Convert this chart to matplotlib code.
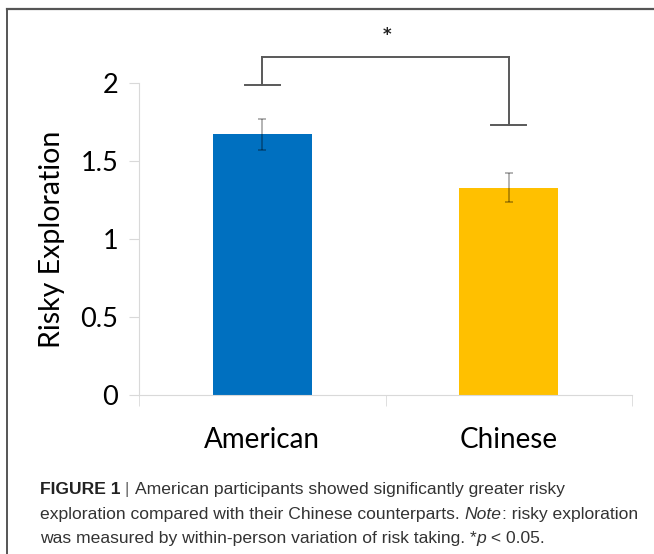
import numpy as np
import matplotlib
matplotlib.use("Agg")
import matplotlib.pyplot as plt

# data
groups = ["American", "Chinese"]
means = [1.67, 1.33]
errors = [0.10, 0.09]
bar_colors = ["#0070C0", "#FFC000"]
yticks = [0, 0.5, 1, 1.5, 2]
ytick_labels = ["0", "0.5", "1", "1.5", "2"]
bracket_top = 2.165
bracket_ends = [1.99, 1.733]

W, H = 654, 554
fig = plt.figure(figsize=(W / 100, H / 100), dpi=100)

# axes placed in pixel terms
x0, x1 = 139, 632
y0 = 395
px_per_unit = 156
ymax = 2.4
ax = fig.add_axes([x0 / W, (H - y0) / H, (x1 - x0) / W, ymax * px_per_unit / H])

xpos = np.arange(len(groups))
ax.bar(xpos, means, width=0.4, color=bar_colors, zorder=2)
ax.errorbar(xpos, means, yerr=errors, fmt="none", ecolor="black", alpha=0.35,
            elinewidth=1.2, capsize=3, capthick=1.2, zorder=3)

ax.set_xlim(-0.5, 1.5)
ax.set_ylim(0, ymax)
for s in ["top", "right"]:
    ax.spines[s].set_visible(False)
ax.spines["left"].set_bounds(0, 2)
ax.spines["left"].set_color("#D9D9D9")
ax.spines["bottom"].set_color("#D9D9D9")

tickfont = "Lato"
ax.set_yticks(yticks)
ax.set_yticklabels(ytick_labels, fontsize=19.5, family=tickfont, color="black")
ax.tick_params(axis="y", length=7, color="#D9D9D9", pad=8)
ax.set_xticks(xpos)
ax.set_xticklabels(groups, fontsize=20, family=tickfont, color="black")
ax.tick_params(axis="x", which="major", length=0, pad=23)
ax.set_xticks([-0.5, 0.5, 1.5], minor=True)
ax.tick_params(axis="x", which="minor", length=8, color="#D9D9D9")
ax.set_ylabel("Risky Exploration", fontsize=20.5, family=tickfont)
ax.yaxis.set_label_coords(-0.15, 1.0 / ymax)

# significance bracket
bc = "#595959"
ax.plot([xpos[0], xpos[0]], [bracket_ends[0], bracket_top], color=bc, lw=1.4, clip_on=False)
ax.plot([xpos[0], xpos[1]], [bracket_top, bracket_top], color=bc, lw=1.4, clip_on=False)
ax.plot([xpos[1], xpos[1]], [bracket_top, bracket_ends[1]], color=bc, lw=1.4, clip_on=False)
for xi, yi in zip(xpos, bracket_ends):
    ax.plot([xi - 0.07, xi + 0.07], [yi, yi], color=bc, lw=1.4, clip_on=False)
ax.text((xpos[0] + xpos[1]) / 2 + 0.005, 2.31, "*", ha="center", va="center",
        fontsize=12, family="DejaVu Sans", weight="bold", color="#222222")

# frame lines (top and left) of the figure panel
fig.add_artist(plt.Line2D([7 / W, 1], [1 - 9 / H, 1 - 9 / H], color="#555555", lw=1.6))
fig.add_artist(plt.Line2D([7 / W, 7 / W], [0, 1 - 9 / H], color="#555555", lw=1.4))

# caption with mixed styles
capfont = "Liberation Sans"
capsize = 12.6
lines = [
    [("FIGURE 1", "bold", "normal", "#222222"), (" | ", "normal", "normal", "#666666"),
     ("American participants showed significantly greater risky", "normal", "normal", "#333333")],
    [("exploration compared with their Chinese counterparts. ", "normal", "normal", "#333333"),
     ("Note", "normal", "italic", "#333333"),
     (": risky exploration", "normal", "normal", "#333333")],
    [("was measured by within-person variation of risk taking. *", "normal", "normal", "#333333"),
     ("p", "normal", "italic", "#333333"),
     (" < 0.05.", "normal", "normal", "#333333")],
]
baselines = [494, 519, 543]
fig.canvas.draw()
renderer = fig.canvas.get_renderer()
for runs, base in zip(lines, baselines):
    xcur = 40
    for txt, weight, style, col in runs:
        t = fig.text(xcur / W, 1 - base / H, txt, fontsize=capsize, family=capfont,
                     weight=weight, style=style, color=col, va="baseline", ha="left")
        bb = t.get_window_extent(renderer)
        xcur += bb.width

fig.savefig("out.png", dpi=100)
